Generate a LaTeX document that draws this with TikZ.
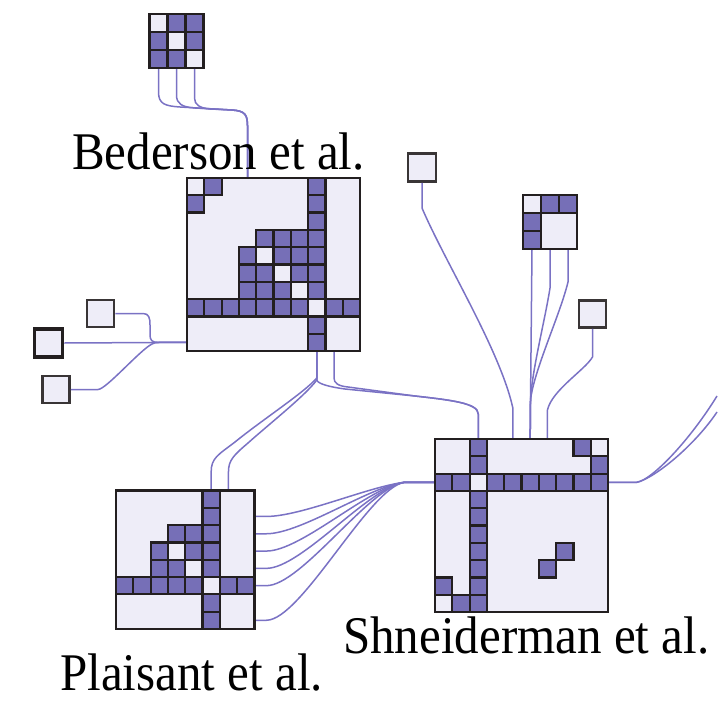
\documentclass[tikz,border=0pt]{standalone}
\usepackage{fontspec}
\setmainfont{Liberation Serif}
\usepackage{graphicx}
\usetikzlibrary{calc}

\definecolor{cellpurple}{RGB}{118,111,183}
\definecolor{cellbg}{RGB}{238,237,248}
\definecolor{gridline}{RGB}{35,31,32}
\definecolor{linkblue}{RGB}{122,114,196}

% port coordinates along the four sides of a matrix
\newcommand{\matports}[3]{%
  \foreach \i in {1,...,#3} {
    \coordinate (#1-n\i) at ($(#1.north west)+({(\i-0.5)*#2},0)$);
    \coordinate (#1-s\i) at ($(#1.south west)+({(\i-0.5)*#2},0)$);
    \coordinate (#1-w\i) at ($(#1.north west)+(0,{(\i-0.5)*#2})$);
    \coordinate (#1-e\i) at ($(#1.north east)+(0,{(\i-0.5)*#2})$);
  }}

% filled and empty cells, then the frame
\newcommand{\matcells}[4]{%
  \begin{scope}[shift={(#1.north west)}]
    \foreach \ri/\ci in {#3}
      \draw[oncell] ({\ci*#2},{\ri*#2}) rectangle +(#2,#2);
    \foreach \ri/\ci in {#4}
      \draw[offcell] ({\ci*#2},{\ri*#2}) rectangle +(#2,#2);
  \end{scope}
  \draw[matframe] (#1.north west) rectangle (#1.south east);}

\newcommand{\lbltext}[1]{\scalebox{1}[1.08]{#1}}

\begin{document}
\begin{tikzpicture}[x=1pt, y=-1pt,
    mat/.style={fill=cellbg, inner sep=0pt, outer sep=0pt, minimum size=#1},
    matframe/.style={draw=gridline, line width=2.8pt},
    oncell/.style={draw=gridline, line width=2.2pt, fill=cellpurple},
    offcell/.style={draw=gridline, line width=2.2pt, fill=cellbg},
    single/.style={draw=gridline!90, line width=2.8pt, fill=cellbg, inner sep=0pt, minimum size=27pt},
    link/.style={draw=linkblue, line width=1.5pt, line join=round},
    lbl/.style={inner sep=0pt, anchor=base west, font=\fontsize{49}{49}\selectfont}
]
\useasboundingbox (0,0) rectangle (717,727);

% Nodes
\node[mat=54pt] (topm) at (176.5,41) {};
\node[mat=173pt] (bed) at (273.5,264.5) {};
\node[mat=138.4pt] (pla) at (185.2,559.7) {};
\node[mat=173pt] (shn) at (521.5,525.5) {};
\node[mat=54pt] (rm) at (550,222) {};

\node[single] (sqa) at (100.5,313.5) {};
\node[single, line width=3.8pt, draw=gridline, minimum size=28pt] (sqb) at (48.5,343) {};
\node[single] (sqc) at (56,389.5) {};
\node[single, minimum size=28pt] (sqd) at (422,167.5) {};
\node[single] (sqe) at (592.5,314) {};

\coordinate (offa) at (717,396);
\coordinate (offb) at (717,412);

% Ports
\matports{topm}{18}{3}
\matports{bed}{17.3}{10}
\matports{pla}{17.3}{8}
\matports{shn}{17.3}{10}
\matports{rm}{18}{3}

% Connections
\draw[link] (topm-s1) -- (158.5,92) .. controls (158.5,104) and (165,106) .. (180,107) -- (232,110) .. controls (246,111) and (bed-n4 |- 0,115) .. (bed-n4 |- 0,128) -- (bed-n4);
\draw[link] (topm-s2) -- (176.5,95) .. controls (176.5,104) and (182,107) .. (195,108) -- (232,110) .. controls (246,111) and (bed-n4 |- 0,115) .. (bed-n4 |- 0,128) -- (bed-n4);
\draw[link] (topm-s3) -- (194.5,98) .. controls (194.5,105) and (200,108) .. (210,109) -- (232,110) .. controls (246,111) and (bed-n4 |- 0,115) .. (bed-n4 |- 0,128) -- (bed-n4);

\draw[link] (sqa.east) -- (143,313.5) .. controls (149,313.5) and (150,318) .. (150,325) -- (150,335) .. controls (150,340) and (152,342.4) .. (158,342.4) -- (bed-w10);
\draw[link] (sqb.east) -- (bed-w10);
\draw[link] (sqc.east) -- (98,389.5) .. controls (106,389.5) and (140,350) .. (152,344) .. controls (154,342.8) and (156,342.4) .. (160,342.4) -- (bed-w10);

\draw[link] (bed-s8) -- (316.75,378) .. controls (305,392) and (262,420) .. (235,442) .. controls (218,455) and (211.15,458) .. (211.15,472) -- (pla-n6);
\draw[link] (bed-s8) -- (316.75,380) .. controls (306,395) and (268,425) .. (248,443) .. controls (234,455) and (228.45,460) .. (228.45,472) -- (pla-n7);
\draw[link] (bed-s8) -- (316.75,380) .. controls (318,384) and (330,387) .. (345,389) -- (415,396) .. controls (450,400) and (478.25,403) .. (478.25,414) -- (shn-n3);
\draw[link] (bed-s9) -- (334,378) .. controls (334,383) and (338,386) .. (348,387) -- (415,396) .. controls (450,400) and (478.25,403) .. (478.25,414) -- (shn-n3);

\foreach \k in {2,3,4,5,6,8}
  \draw[link] (pla-e\k) -- +(12,0) .. controls +(35,0) and (370,486) .. (405,482.25) -- (shn-w3);

\draw[link] (shn-e3) -- (637,482.25) .. controls (652,480) and (690,440) .. (offa);
\draw[link] (shn-e3) -- (637,482.25) .. controls (655,478) and (695,445) .. (offb);

\draw[link] (sqd.south) -- (422,208) .. controls (445,262) and (500,350) .. (512.85,408) -- (shn-n5);

\draw[link] (rm-s1) -- (shn-n6);
\draw[link] (rm-s2) -- (550,288) .. controls (545,320) and (532,370) .. (530.5,400) -- (shn-n6);
\draw[link] (rm-s3) -- (568,282) .. controls (560,315) and (534,370) .. (530.5,400) -- (shn-n6);

\draw[link] (sqe.south) -- (592.5,357) .. controls (585,370) and (552,390) .. (547.45,410) -- (shn-n7);

% Matrix cells
\matcells{topm}{18}{0/1,0/2,1/0,1/2,2/0,2/1}{0/0,1/1,2/2}
\matcells{bed}{17.3}{0/1,0/7,1/0,1/7,2/7,3/4,3/5,3/6,3/7,4/3,4/5,4/6,4/7,5/3,5/4,5/6,5/7,6/3,6/4,6/5,6/7,7/0,7/1,7/2,7/3,7/4,7/5,7/6,7/8,7/9,8/7,9/7}{0/0,4/4,5/5,6/6,7/7}
\matcells{pla}{17.3}{0/5,1/5,2/3,2/4,2/5,3/2,3/4,3/5,4/2,4/3,4/5,5/0,5/1,5/2,5/3,5/4,5/6,5/7,6/5,7/5}{3/3,4/4,5/5}
\matcells{shn}{17.3}{0/2,0/8,1/2,1/9,2/0,2/1,2/3,2/4,2/5,2/6,2/7,2/8,2/9,3/2,4/2,5/2,6/2,6/7,7/2,7/6,8/0,8/2,9/1,9/2}{0/9,2/2,9/0}
\matcells{rm}{18}{0/1,0/2,1/0,2/0}{0/0}

% Labels
\node[lbl] (bedlbl) at (72,169.5) {\lbltext{Bederson et al.}};
\node[lbl] (plalbl) at (60,690) {\lbltext{Plaisant et al.}};
\node[lbl] (shnlbl) at (343,653) {\lbltext{Shneiderman et al.}};

\end{tikzpicture}
\end{document}
